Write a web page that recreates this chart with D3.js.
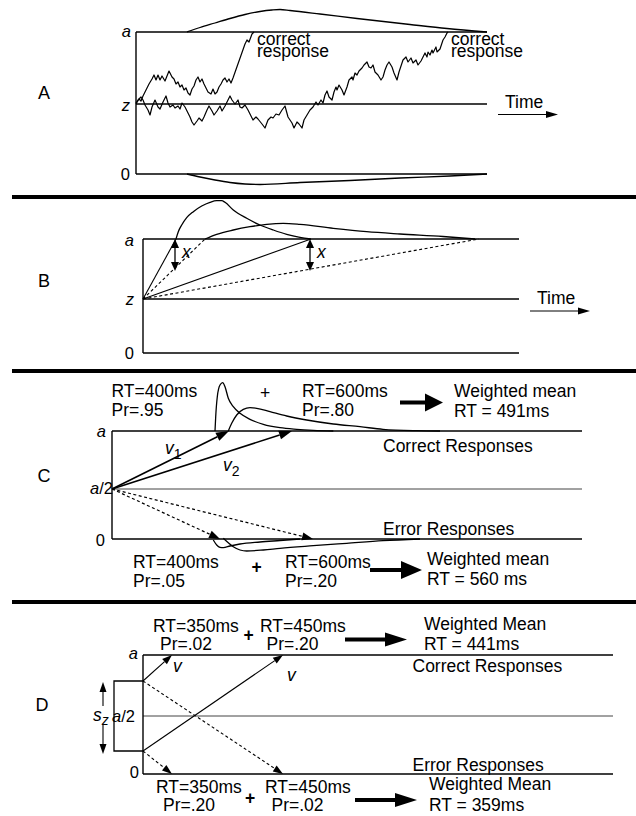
<!DOCTYPE html>
<meta charset="utf-8">
<html>
<head>
  <script src="https://d3js.org/d3.v7.min.js" charset="utf-8"></script>
</head>
<style>
body { margin: 0; background: white; }
svg text {
    font-family: "Liberation Sans", Arial, Helvetica, sans-serif;
    font-size: 17.5px;
    fill: black;
}
.it { font-style: italic; }
.lvl { font-size: 16.5px; }
.letter { font-size: 18px; text-anchor: middle; dominant-baseline: central; }
</style>
<body>
<div id="container"></div>

<script type="text/javascript">

var width = 636
var height = 816

// ---------- values (time units, evidence units) ----------

// Panel A: boundaries 0, z, a
var levelsA = [0, 70, 142]
var walkFast = [[0,70],[3,75],[5,73],[7,78],[10,84],[13,90],[16,95],[18,99],[20,94],[22,99],[24,94],[26,98],
  [29,93],[31,98],[33,103],[36,97],[38,95],[40,90],[42,92],[44,87],[46,89],[48,84],[50,86],[52,81],[54,79],
  [56,85],[58,88],[60,94],[62,97],[64,92],[66,95],[68,90],[70,86],[72,82],[75,80],[77,85],[79,80],[81,82],
  [83,87],[85,90],[87,94],[89,96],[91,92],[93,95],[95,91],[97,96],[109,130],[111,134],[113,132],[116,140],[118,142]]
var walkSlow = [[0,71],[2,74],[5,77],[7,74],[9,69],[12,64],[14,59],[16,67],[19,74],[22,67],[24,65],[27,72],
  [30,78],[32,71],[34,67],[37,69],[39,66],[42,68],[44,65],[46,71],[49,67],[52,61],[54,57],[56,52],[58,49],
  [61,53],[63,56],[66,53],[68,57],[71,64],[73,68],[76,63],[78,59],[81,63],[84,68],[86,63],[89,68],[92,74],
  [94,78],[96,74],[99,70],[102,74],[104,67],[106,66],[109,69],[112,64],[115,58],[117,54],[120,57],[122,55],
  [126,50],[129,46],[132,54],[135,57],[137,56],[140,60],[143,59],[146,64],[149,68],[152,57],[156,51],[158,46],
  [161,52],[163,50],[166,46],[168,54],[171,59],[174,64],[177,67],[180,72],[182,69],[185,74],[187,71],[189,79],
  [191,83],[193,77],[196,74],[198,82],[200,87],[201,84],[203,89],[206,84],[208,79],[211,87],[213,94],[216,97],
  [217,94],[219,101],[221,99],[223,103],[226,106],[228,109],[231,112],[233,107],[235,106],[237,109],[239,102],
  [242,99],[245,94],[247,97],[249,104],[251,109],[253,112],[256,107],[258,101],[261,94],[263,102],[267,114],
  [270,117],[272,112],[275,116],[277,111],[280,114],[282,109],[285,113],[287,117],[289,121],[291,117],[292,122],
  [294,119],[296,124],[297,121],[300,127],[301,122],[304,125],[306,131],[307,134],[309,137],[311,141],[312,142]]
var rtCorrectA = [[51,142],[64,146.5],[79,151],[94,155.5],[109,159.5],[124,162.5],[136,164],[144,164.5],
  [154,163.5],[184,160],[221,155.5],[274,149.5],[311,145.5],[351,142]]
var rtErrorA = [[51,0],[64,-3],[79,-6],[94,-8.5],[109,-10],[124,-10.5],[164,-8.5],[214,-6.5],[264,-4],
  [314,-2],[351,0]]

// Panel B
var levelsB = [0, 54, 114]
var rtFastB = [[33,114],[35.3,121.3],[38.7,128],[43.7,135.3],[50.3,141.3],[58.7,147],[67,150.7],[73.7,152.3],
  [78.7,152.3],[82,150.7],[90.3,143],[103.7,134.7],[117,128],[130.3,123],[143.7,118.7],[157,115.7],[167.7,114]]
var rtSlowB = [[62,114],[73.7,118.7],[90.3,123],[107,126.3],[123.7,128.7],[140.3,129.7],[157,128.7],
  [190.3,124.7],[223.7,121.3],[257,119],[300,116.5],[332,114]]
var hitsB = [33, 62, 168, 336]     // solid, dashed, solid, dashed
var gapB = 82                      // lower end of the two "x" arrows

// Panel C
var levelsC = [0, 50, 108]
var rtCorrect1C = [[103,108],[103.7,122.3],[105.3,142.3],[108,154],[110.7,156.3],[113,152.3],[116.3,140.7],
  [121.3,132.3],[128,125.7],[138,119.7],[151.3,114.7],[168,111.3],[184.7,109.7],[201.3,108.7],[221.3,108]]
var rtCorrect2C = [[116.3,108],[119.7,115.7],[124.7,124],[131.3,129.7],[138,131.3],[144.7,130.7],[158,127.3],
  [174.7,123],[194.7,119],[221.3,115],[248,112.3],[271,109.7],[304.7,108.3],[328,108]]
var rtError1C = [[101.3,-1],[104.7,-6],[108,-8.3],[111.3,-8.7],[118,-7],[128,-5],[148,-3],[168,-1.5],[188,0]]
var rtError2C = [[111.3,0.7],[121.3,-7.7],[128,-11],[134.7,-12],[151.3,-11],[168,-9.3],[201.3,-6.7],
  [234.7,-4.3],[271,-1.7],[308,0]]
var correctHitsC = [117, 180]
var errorHitsC = [108, 201]
var topTextC = ["RT=400ms", "Pr=.95", "RT=600ms", "Pr=.80", "Weighted mean", "RT = 491ms"]
var bottomTextC = ["RT=400ms", "Pr=.05", "RT=600ms", "Pr=.20", "Weighted mean", "RT = 560 ms"]

// Panel D
var levelsD = [0, 58, 119]
var startsD = [23, 93]
var hitsD = [29, 140]
var topTextD = ["RT=350ms", "Pr=.02", "RT=450ms", "Pr=.20", "Weighted Mean", "RT = 441ms"]
var bottomTextD = ["RT=350ms", "Pr=.20", "RT=450ms", "Pr=.02", "Weighted Mean", "RT = 359ms"]

var panelLetters = ["A", "B", "C", "D"]

// ---------- drawing ----------

var svg = d3.select("#container")
            .append("svg")
            .attr("width", width)
            .attr("height", height)
            .style("background", "white")

function makePanel(x0, y0, T, A) {
  var x = d3.scaleLinear().domain([0, T]).range([x0, x0 + T])
  var y = d3.scaleLinear().domain([0, A]).range([y0, y0 - A])
  return {x: x, y: y, T: T, g: svg.append("g")}
}

function seg(g, x1, y1, x2, y2, w, dash, col) {
  return g.append("line")
          .attr("x1", x1).attr("y1", y1).attr("x2", x2).attr("y2", y2)
          .attr("stroke", col || "black")
          .attr("stroke-width", w || 1.3)
          .attr("stroke-dasharray", dash || null)
}

// filled arrow head with its tip at (x2, y2)
function head(g, x1, y1, x2, y2, len, hw) {
  var dx = x2 - x1, dy = y2 - y1, L = Math.hypot(dx, dy)
  var ux = dx / L, uy = dy / L
  var bx = x2 - ux * len, by = y2 - uy * len
  g.append("path")
   .attr("d", "M" + x2 + "," + y2 + "L" + (bx - uy * hw) + "," + (by + ux * hw) +
              "L" + (bx + uy * hw) + "," + (by - ux * hw) + "Z")
   .attr("fill", "black")
  return [bx, by]
}

function arrow(g, x1, y1, x2, y2, w, dash, len, hw) {
  var b = head(g, x1, y1, x2, y2, len || 11, hw || 4)
  seg(g, x1, y1, b[0], b[1], w, dash)
}

function bigArrow(g, x1, x2, y, hl, hh, sh) {
  g.append("path")
   .attr("d", "M" + x1 + "," + (y - sh / 2) + "L" + (x2 - hl) + "," + (y - sh / 2) +
              "L" + (x2 - hl) + "," + (y - hh / 2) + "L" + x2 + "," + y +
              "L" + (x2 - hl) + "," + (y + hh / 2) + "L" + (x2 - hl) + "," + (y + sh / 2) +
              "L" + x1 + "," + (y + sh / 2) + "Z")
   .attr("fill", "black")
}

function txt(g, x, y, s, cls, anchor) {
  return g.append("text").attr("x", x).attr("y", y)
          .attr("class", cls || null)
          .attr("text-anchor", anchor || "start")
          .text(s)
}

function levelLabel(g, x, y, parts) {
  var t = g.append("text").attr("x", x).attr("y", y).attr("class", "lvl").attr("text-anchor", "end")
  parts.forEach(function(p) {
    t.append("tspan").attr("class", p[1] ? "it" : null).text(p[0])
  })
}

function curvePath(p, data, curve) {
  return d3.line().x(d => p.x(d[0])).y(d => p.y(d[1])).curve(curve || d3.curveLinear)(data)
}

function draw(p, data, w, curve) {
  p.g.append("path").attr("d", curvePath(p, data, curve))
     .attr("fill", "none").attr("stroke", "black").attr("stroke-width", w || 1.3)
     .attr("stroke-linejoin", "round")
}

// separators
;[197, 371, 602].forEach(function(yy) {
  seg(svg, 12, yy, width, yy, 4)
})

// panel letters
var letterPos = [[44, 93], [44, 281], [44, 476], [42, 705]]
panelLetters.forEach(function(l, i) {
  svg.append("text").attr("class", "letter")
     .attr("x", letterPos[i][0]).attr("y", letterPos[i][1]).text(l)
})

// ---------- Panel A ----------
var pA = makePanel(136, 174, 351, 142)
levelsA.forEach(function(l) { seg(pA.g, pA.x(0), pA.y(l), pA.x(pA.T), pA.y(l), 1.4) })
seg(pA.g, pA.x(0), pA.y(0), pA.x(0), pA.y(levelsA[2]), 1.4)
levelLabel(pA.g, pA.x(0) - 5, pA.y(levelsA[2]) + 5, [["a", true]])
levelLabel(pA.g, pA.x(0) - 6, pA.y(levelsA[1]) + 7, [["z", true]])
levelLabel(pA.g, pA.x(0) - 6, pA.y(0) + 6, [["0", false]])

draw(pA, walkSlow, 1.2)
draw(pA, walkFast, 1.2)
draw(pA, rtCorrectA, 1.3, d3.curveMonotoneX)
draw(pA, rtErrorA, 1.3, d3.curveMonotoneX)

;[walkFast, walkSlow].forEach(function(w) {
  var end = w[w.length - 1]
  txt(pA.g, pA.x(end[0]) + 3, 45, "correct")
  txt(pA.g, pA.x(end[0]) + 3, 56.5, "response")
})
txt(pA.g, 505, 107.5, "Time")
arrow(pA.g, 498, 114.5, 558, 114.5, 1, null, 12, 3.5)

// ---------- Panel B ----------
var pB = makePanel(143, 353, 376, 114)
levelsB.forEach(function(l) { seg(pB.g, pB.x(0), pB.y(l), pB.x(pB.T), pB.y(l), 1.4) })
seg(pB.g, pB.x(0), pB.y(0), pB.x(0), pB.y(levelsB[2]), 1.4)
levelLabel(pB.g, pB.x(0) - 9, pB.y(levelsB[2]) + 7, [["a", true]])
levelLabel(pB.g, pB.x(0) - 9, pB.y(levelsB[1]) + 6, [["z", true]])
levelLabel(pB.g, pB.x(0) - 9, pB.y(0) + 6, [["0", false]])

hitsB.forEach(function(t, i) {
  seg(pB.g, pB.x(0), pB.y(levelsB[1]), pB.x(t), pB.y(levelsB[2]), 1.1, i % 2 ? "3,2.5" : null)
})
draw(pB, rtFastB, 1.3, d3.curveMonotoneX)
draw(pB, rtSlowB, 1.3, d3.curveMonotoneX)

;[hitsB[0], hitsB[2]].forEach(function(t) {
  var xx = pB.x(t) - 1, yt = pB.y(levelsB[2]), yb = pB.y(gapB)
  var ym = (yt + yb) / 2
  arrow(pB.g, xx, ym, xx, yt, 1.3, null, 9, 4)
  arrow(pB.g, xx, ym, xx, yb, 1.3, null, 9, 4)
  txt(pB.g, xx + 7, pB.y(95), "x", "it")
})
txt(pB.g, 537, 304, "Time")
arrow(pB.g, 530, 311, 590, 311, 1, null, 12, 3.5)

// ---------- Panel C ----------
var pC = makePanel(112, 539, 470, 108)
seg(pC.g, pC.x(0), pC.y(levelsC[2]), pC.x(pC.T), pC.y(levelsC[2]), 1.4)
seg(pC.g, pC.x(0), pC.y(levelsC[1]), pC.x(pC.T), pC.y(levelsC[1]), 1, null, "#444")
seg(pC.g, pC.x(0), pC.y(0), pC.x(pC.T), pC.y(0), 1.4)
seg(pC.g, pC.x(0), pC.y(0), pC.x(0), pC.y(levelsC[2]), 1.4)
levelLabel(pC.g, pC.x(0) - 6, pC.y(levelsC[2]) + 6, [["a", true]])
levelLabel(pC.g, pC.x(0) + 1, pC.y(levelsC[1]) + 5, [["a", true], ["/2", false]])
levelLabel(pC.g, pC.x(0) - 7, pC.y(0) + 7, [["0", false]])

draw(pC, rtCorrect1C, 1.3, d3.curveMonotoneX)
draw(pC, rtCorrect2C, 1.3, d3.curveMonotoneX)
draw(pC, rtError1C, 1.3, d3.curveMonotoneX)
draw(pC, rtError2C, 1.3, d3.curveMonotoneX)

correctHitsC.forEach(function(t) {
  arrow(pC.g, pC.x(0), pC.y(levelsC[1]), pC.x(t), pC.y(levelsC[2]), 1.6, null, 13, 4.5)
})
errorHitsC.forEach(function(t) {
  arrow(pC.g, pC.x(0), pC.y(levelsC[1]), pC.x(t), pC.y(0), 1.2, "3,2.5", 11, 4)
})

var v1 = pC.g.append("text").attr("x", 165).attr("y", 454)
v1.append("tspan").attr("class", "it").text("v")
v1.append("tspan").attr("dy", 5).style("font-size", "14px").text("1")
var v2 = pC.g.append("text").attr("x", 223).attr("y", 471)
v2.append("tspan").attr("class", "it").text("v")
v2.append("tspan").attr("dy", 5).style("font-size", "14px").text("2")

txt(pC.g, 111.5, 397, topTextC[0]); txt(pC.g, 111.5, 415.5, topTextC[1])
txt(pC.g, 265, 399, "+", null, "middle")
txt(pC.g, 302, 397, topTextC[2]); txt(pC.g, 302, 415.5, topTextC[3])
bigArrow(pC.g, 400, 443, 402.5, 18, 18, 4)
txt(pC.g, 454, 397, topTextC[4]); txt(pC.g, 454, 416.5, topTextC[5])
txt(pC.g, 383, 451.5, "Correct Responses")
txt(pC.g, 383, 535, "Error Responses")
txt(pC.g, 133, 568, bottomTextC[0]); txt(pC.g, 133, 586.5, bottomTextC[1])
txt(pC.g, 256.5, 573, "+", null, "middle").style("font-weight", "bold")
txt(pC.g, 285, 568, bottomTextC[2]); txt(pC.g, 285, 586.5, bottomTextC[3])
bigArrow(pC.g, 370, 422, 570, 21, 18, 4)
txt(pC.g, 427, 565, bottomTextC[4]); txt(pC.g, 427, 585, bottomTextC[5])

// ---------- Panel D ----------
var pD = makePanel(143, 774, 470, 119)
seg(pD.g, pD.x(0), pD.y(levelsD[2]), pD.x(pD.T), pD.y(levelsD[2]), 1.4)
seg(pD.g, pD.x(0), pD.y(levelsD[1]), pD.x(pD.T), pD.y(levelsD[1]), 1, null, "#444")
seg(pD.g, pD.x(0), pD.y(0), pD.x(pD.T), pD.y(0), 1.4)
seg(pD.g, pD.x(0), pD.y(0), pD.x(0), pD.y(levelsD[2]), 1.4)
levelLabel(pD.g, pD.x(0) - 5, pD.y(levelsD[2]) + 4, [["a", true]])
levelLabel(pD.g, pD.x(0) - 8, pD.y(levelsD[1]) + 6, [["a", true], ["/2", false]])
levelLabel(pD.g, pD.x(0) - 4, pD.y(0) + 4, [["0", false]])

// start-point box
pD.g.append("path")
    .attr("d", "M" + pD.x(0) + "," + pD.y(startsD[1]) + "H" + pD.x(-29) +
               "V" + pD.y(startsD[0]) + "H" + pD.x(0))
    .attr("fill", "none").attr("stroke", "black").attr("stroke-width", 1.3)

// s_z double arrow with a gap for its label
var sx = pD.x(-40)
arrow(pD.g, sx, pD.y(68), sx, pD.y(startsD[1] - 1), 1.1, null, 10, 3.5)
arrow(pD.g, sx, pD.y(49), sx, pD.y(startsD[0] - 3), 1.1, null, 10, 3.5)
var sz = pD.g.append("text").attr("x", 93).attr("y", 721)
sz.append("tspan").attr("class", "it").text("s")
sz.append("tspan").attr("class", "it").attr("dy", 4).style("font-size", "14px").text("z")

// drifts from the two extreme start points
arrow(pD.g, pD.x(0), pD.y(startsD[1]), pD.x(hitsD[0]), pD.y(levelsD[2]), 1.1, null, 10, 3.5)
arrow(pD.g, pD.x(0), pD.y(startsD[0]), pD.x(hitsD[1]), pD.y(levelsD[2]), 1.1, null, 10, 3.5)
arrow(pD.g, pD.x(0), pD.y(startsD[1]), pD.x(hitsD[1]), pD.y(0), 1.1, "3,2.5", 10, 3.5)
arrow(pD.g, pD.x(0), pD.y(startsD[0]), pD.x(hitsD[0]), pD.y(0), 1.1, "3,2.5", 10, 3.5)
txt(pD.g, 173, 672, "v", "it")
txt(pD.g, 287, 681, "v", "it")

txt(pD.g, 153, 631.5, topTextD[0]); txt(pD.g, 160, 650, topTextD[1])
txt(pD.g, 248.5, 641, "+", null, "middle").style("font-weight", "bold")
txt(pD.g, 260, 631.5, topTextD[2]); txt(pD.g, 266.5, 650, topTextD[3])
bigArrow(pD.g, 345, 407, 639.5, 22, 14, 4)
txt(pD.g, 424, 630, topTextD[4]); txt(pD.g, 424, 650, topTextD[5])
txt(pD.g, 412.5, 671.5, "Correct Responses")
txt(pD.g, 412.5, 770.5, "Error Responses")
txt(pD.g, 156, 793, bottomTextD[0]); txt(pD.g, 163, 811, bottomTextD[1])
txt(pD.g, 250, 804, "+", null, "middle").style("font-weight", "bold")
txt(pD.g, 265, 793, bottomTextD[2]); txt(pD.g, 271.5, 811, bottomTextD[3])
bigArrow(pD.g, 355, 417, 800, 22, 14, 4)
txt(pD.g, 429, 790, bottomTextD[4]); txt(pD.g, 429, 810.5, bottomTextD[5])

</script>
</body>
</html>
